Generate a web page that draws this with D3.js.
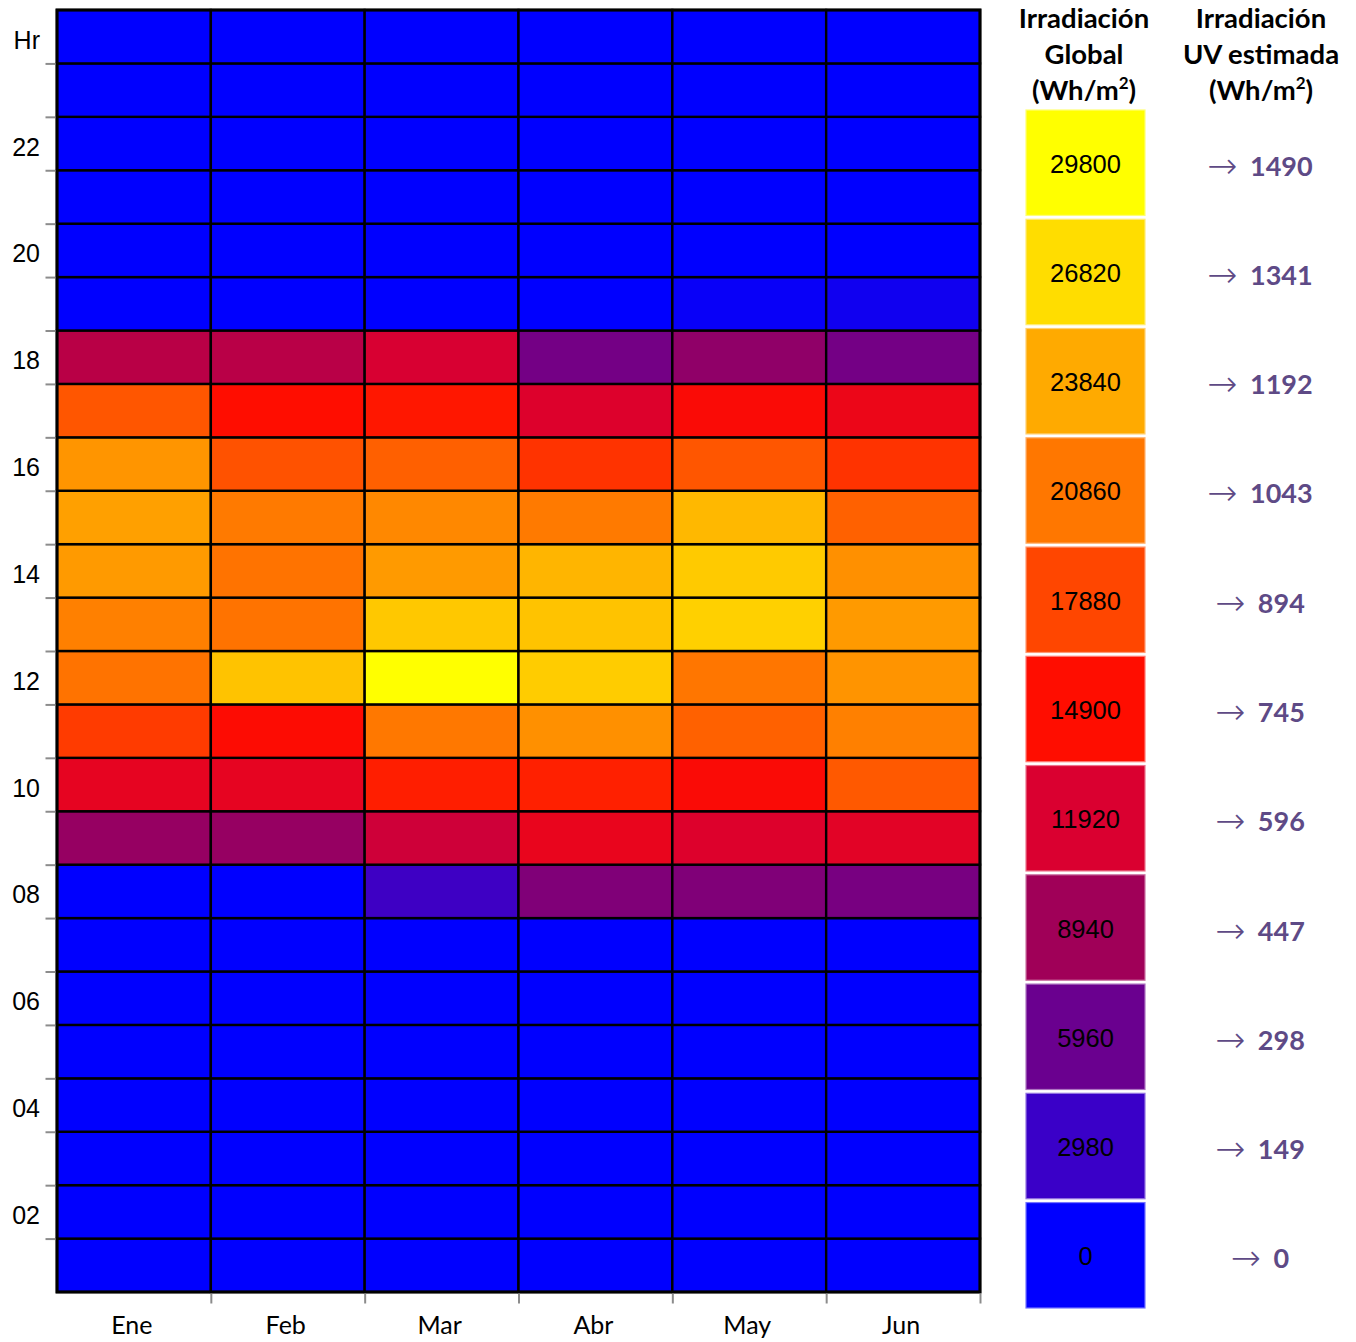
<!DOCTYPE html>
<html>
<head>
<meta charset="utf-8">
<script src="https://cdn.jsdelivr.net/npm/d3@7"></script>
<style>
  html, body { margin: 0; padding: 0; background: #fff; }
  svg { display: block; }
</style>
</head>
<body>
<svg id="chart" width="1356" height="1342"></svg>
<script>
// ---------------- DATA ----------------
const months = ["Ene", "Feb", "Mar", "Abr", "May", "Jun"];
// hours of the day, 1..24 (bottom row = 1, top row = 24)
const hours = d3.range(1, 25);
const hourLabels = ["02", "04", "06", "08", "10", "12", "14", "16", "18", "20", "22", "Hr"];
const hourLabelPos = [2, 4, 6, 8, 10, 12, 14, 16, 18, 20, 22, 24];

// global irradiation (Wh/m²), per month, hours 1..24
const ene = [0,0,0,0,0,0,0,0, 8390,12880,17300,20630,21390,22910,23260,22610,18870,10250,0,0,0,0,0,0];
const feb = [0,0,0,0,0,0,0,0, 8390,12880,14700,25300,20630,20630,21030,18580,14900,10200,0,0,0,0,0,0];
const mar = [0,0,0,0,0,0,0,3200, 11280,15780,20900,29800,25590,22910,21850,19460,15420,11800,0,0,0,0,0,0];
const abr = [0,0,0,0,0,0,0,7180, 13090,15890,22320,25830,25300,24480,21030,16890,12190,6520,0,0,0,0,0,0];
const may = [0,0,0,0,0,0,0,7180, 12180,14500,19520,20800,26060,25710,24660,18870,14500,8050,400,0,0,0,0,0];
const jun = [0,0,0,0,0,0,0,6730, 12530,19050,21390,22540,22910,22320,19520,16890,13400,6520,800,0,0,0,0,0];
const seriesByMonth = [ene, feb, mar, abr, may, jun];

// legend
const legendValues = [29800, 26820, 23840, 20860, 17880, 14900, 11920, 8940, 5960, 2980, 0];
const legendColors = ["#FFFF00", "#FFDD00", "#FFAA00", "#FF7700", "#FF4600", "#FF0D00",
                      "#DA0030", "#A00058", "#6A008F", "#3A00C8", "#0000FF"];
const uvValues = [1490, 1341, 1192, 1043, 894, 745, 596, 447, 298, 149, 0];
const headerGlobal = ["Irradiación", "Global", "(Wh/m", "2", ")"];
const headerUV = ["Irradiación", "UV estimada", "(Wh/m", "2", ")"];

// ---------------- CHART ----------------
const svg = d3.select("#chart");
const L = 57, R = 980, T = 10, B = 1292;

const x = d3.scaleBand().domain(months).range([L, R]).padding(0);
const xLin = d3.scaleLinear().domain([0, months.length]).range([L, R]);
const y = d3.scaleLinear().domain([0, 24]).range([B, T]);

const color = d3.scaleLinear()
  .domain(legendValues.slice().reverse())
  .range(legendColors.slice().reverse())
  .interpolate(d3.interpolateRgb)
  .clamp(true);

const cells = [];
months.forEach((m, i) => {
  hours.forEach((h, j) => cells.push({ month: m, hour: h, value: seriesByMonth[i][j] }));
});

svg.append("g").selectAll("rect").data(cells).join("rect")
  .attr("x", d => x(d.month))
  .attr("y", d => y(d.hour))
  .attr("width", x.bandwidth())
  .attr("height", d => y(d.hour - 1) - y(d.hour))
  .attr("fill", d => color(d.value))
  .attr("stroke", "#000")
  .attr("stroke-width", 2.4);

// outer frame
svg.append("rect")
  .attr("x", L).attr("y", T).attr("width", R - L).attr("height", B - T)
  .attr("fill", "none").attr("stroke", "#000").attr("stroke-width", 3);

// Y ticks (row boundaries)
const yAxis = d3.axisLeft(y).tickValues(d3.range(1, 24)).tickFormat("").tickSize(10).tickSizeOuter(0);
const gy = svg.append("g").attr("transform", `translate(${L - 1.5},0)`).call(yAxis);
gy.select(".domain").remove();
gy.selectAll(".tick line").attr("stroke", "#8c8c8c").attr("stroke-width", 2);

// Y labels
svg.append("g").selectAll("text").data(hourLabels).join("text")
  .attr("x", 40)
  .attr("y", (d, i) => y(hourLabelPos[i] - 0.5) + 3)
  .attr("text-anchor", "end")
  .attr("dominant-baseline", "central")
  .attr("font-family", "Liberation Sans, Arial, sans-serif")
  .attr("font-size", 25)
  .attr("fill", "#000")
  .text(d => d);

// X ticks (column boundaries)
const xAxis = d3.axisBottom(xLin).tickValues(d3.range(1, months.length + 1)).tickFormat("").tickSize(10).tickSizeOuter(0);
const gx = svg.append("g").attr("transform", `translate(0,${B + 1.5})`).call(xAxis);
gx.select(".domain").remove();
gx.selectAll(".tick line").attr("stroke", "#8c8c8c").attr("stroke-width", 2);

// X labels
svg.append("g").selectAll("text").data(months).join("text")
  .attr("x", d => x(d) + x.bandwidth() / 2 - 2)
  .attr("y", 1334)
  .attr("text-anchor", "middle")
  .attr("font-family", "Lato, sans-serif")
  .attr("font-size", 25)
  .attr("fill", "#000")
  .text(d => d);

// ---------------- LEGEND ----------------
const ly = d3.scaleBand().domain(legendValues).range([110, 1308]).paddingInner(0.035);
const lx0 = 1026, lw = 119;

const lg = svg.append("g");
lg.selectAll("rect.box").data(legendValues).join("rect")
  .attr("class", "box")
  .attr("x", lx0)
  .attr("y", d => ly(d))
  .attr("width", lw)
  .attr("height", ly.bandwidth())
  .attr("fill", d => color(d))
  .attr("stroke", d => d3.interpolateRgb(color(d), "#ffffff")(0.45))
  .attr("stroke-width", 1.2);

lg.selectAll("text.val").data(legendValues).join("text")
  .attr("class", "val")
  .attr("x", lx0 + lw / 2)
  .attr("y", d => ly(d) + ly.bandwidth() / 2 + 1)
  .attr("text-anchor", "middle")
  .attr("dominant-baseline", "central")
  .attr("font-family", "Liberation Sans, Arial, sans-serif")
  .attr("font-size", 25.5)
  .attr("fill", "#000")
  .text(d => d);

// UV labels
const uv = lg.selectAll("text.uv").data(uvValues).join("text")
  .attr("class", "uv")
  .attr("x", 1260)
  .attr("y", (d, i) => ly(legendValues[i]) + ly.bandwidth() / 2 + 2)
  .attr("text-anchor", "middle")
  .attr("dominant-baseline", "central")
  .attr("font-family", "Lato, sans-serif")
  .attr("font-size", 27)
  .attr("font-weight", "bold")
  .attr("fill", "#5E4A86");
uv.append("tspan").attr("font-weight", 200).attr("font-family", "DejaVu Sans, sans-serif").attr("font-size", 36).text("\u2192");
uv.append("tspan").attr("dx", 6).text(d => "\u00a0" + d);

// Headers
function header(cx, lines) {
  const g = svg.append("g")
    .attr("font-family", "Lato, sans-serif")
    .attr("font-weight", "bold")
    .attr("font-size", 27.5)
    .attr("fill", "#000")
    .attr("text-anchor", "middle");
  g.append("text").attr("x", cx).attr("y", 28).text(lines[0]);
  g.append("text").attr("x", cx).attr("y", 64).text(lines[1]);
  const t = g.append("text").attr("x", cx).attr("y", 100);
  t.append("tspan").text(lines[2]);
  t.append("tspan").attr("font-size", 17).attr("dy", -11).text(lines[3]);
  t.append("tspan").attr("dy", 11).text(lines[4]);
}
header(1084, headerGlobal);
header(1261, headerUV);
</script>
</body>
</html>
